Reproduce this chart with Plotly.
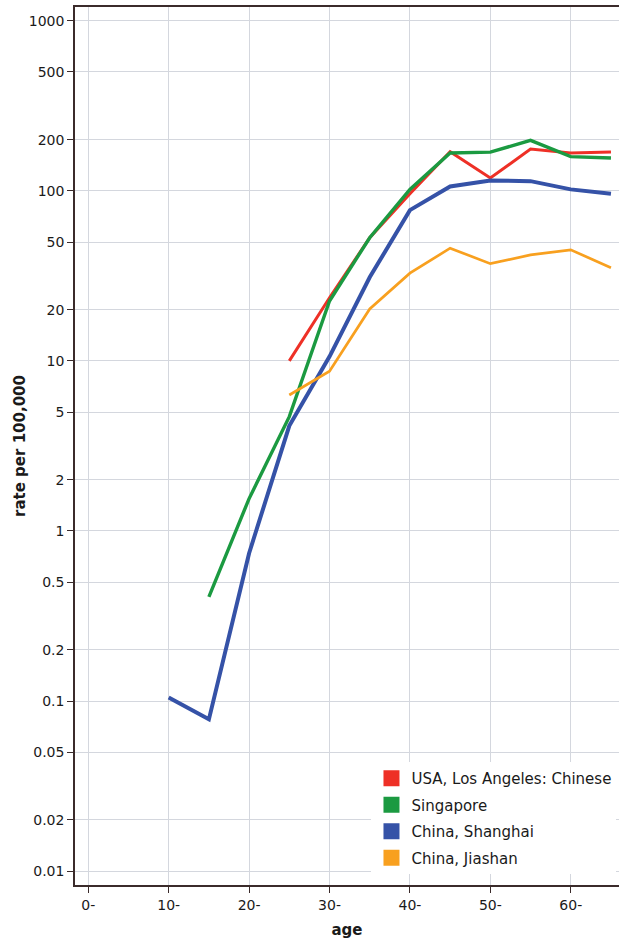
import plotly.graph_objects as go

ages = [10, 15, 20, 25, 30, 35, 40, 45, 50, 55, 60, 65]

usa_la_chinese = [None, None, None, 10.0, 23.5, 53, 96, 170, 119, 176, 167, 169]
singapore = [None, 0.41, 1.55, 4.7, 22.5, 53, 102, 167, 169, 198, 159, 156]
china_shanghai = [0.105, 0.078, 0.74, 4.15, 10.6, 31, 77, 106, 115, 114, 102, 96]
china_jiashan = [None, None, None, 6.3, 8.7, 20.2, 32.8, 46, 37.3, 42, 45, 35.3]

series_names = ["USA, Los Angeles: Chinese", "Singapore", "China, Shanghai", "China, Jiashan"]
series_values = [usa_la_chinese, singapore, china_shanghai, china_jiashan]
series_colors = ["#ee3026", "#1b9a41", "#3552a7", "#f8a01f"]
series_widths = [3, 3.4, 4, 2.7]

x_tick_vals = [0, 10, 20, 30, 40, 50, 60]
x_tick_text = ["0-", "10-", "20-", "30-", "40-", "50-", "60-"]
y_tick_vals = [1000, 500, 200, 100, 50, 20, 10, 5, 2, 1, 0.5, 0.2, 0.1, 0.05, 0.02, 0.01]
y_tick_text = ["1000", "500", "200", "100", "50", "20", "10", "5", "2", "1", "0.5", "0.2", "0.1", "0.05", "0.02", "0.01"]

fig = go.Figure()
for name, vals, col, w in zip(series_names, series_values, series_colors, series_widths):
    fig.add_trace(go.Scatter(x=ages, y=vals, mode="lines", name=name,
                             line=dict(color=col, width=w), showlegend=False,
                             connectgaps=False))
for name, col in zip(series_names, series_colors):
    fig.add_trace(go.Scatter(x=[None], y=[None], mode="markers", name=name,
                             marker=dict(symbol="square", size=16, color=col),
                             legendgroup=name, showlegend=True))

font_family = "DejaVu Sans"
grid_color = "#d4d7de"
axis_color = "#3b2b2b"
text_color = "#1a1a1a"

fig.update_layout(
    width=619, height=939,
    margin=dict(l=75, r=0, t=7, b=54),
    paper_bgcolor="white", plot_bgcolor="white",
    font=dict(family=font_family, size=14, color=text_color),
    legend=dict(x=0.545, y=0.14, xanchor="left", yanchor="top",
                bgcolor="white", borderwidth=0, tracegroupgap=4,
                font=dict(family=font_family, size=15, color=text_color),
                itemsizing="trace"),
    xaxis=dict(range=[-1.65, 66.0], tickvals=x_tick_vals, ticktext=x_tick_text,
               showgrid=True, gridcolor=grid_color, gridwidth=1.2,
               showline=True, linecolor=axis_color, linewidth=1.5, mirror=True,
               ticks="outside", ticklen=6, tickcolor=axis_color,
               tickfont=dict(size=14), zeroline=False, automargin=False,
               title=dict(text="<b>age</b>", font=dict(size=15), standoff=19)),
    yaxis=dict(type="log", range=[-2.082, 3.081], tickvals=y_tick_vals, ticktext=y_tick_text,
               showgrid=True, gridcolor=grid_color, gridwidth=1.2,
               showline=True, linecolor=axis_color, linewidth=1.5,
               ticks="outside", ticklen=6, tickcolor=axis_color,
               tickfont=dict(size=14), zeroline=False, automargin=False,
               title=dict(text="<b>rate per 100,000</b>", font=dict(size=15), standoff=0)),
)

fig.write_html("out.html", config={"displayModeBar": False},
               post_script="document.body.style.margin='0';")
